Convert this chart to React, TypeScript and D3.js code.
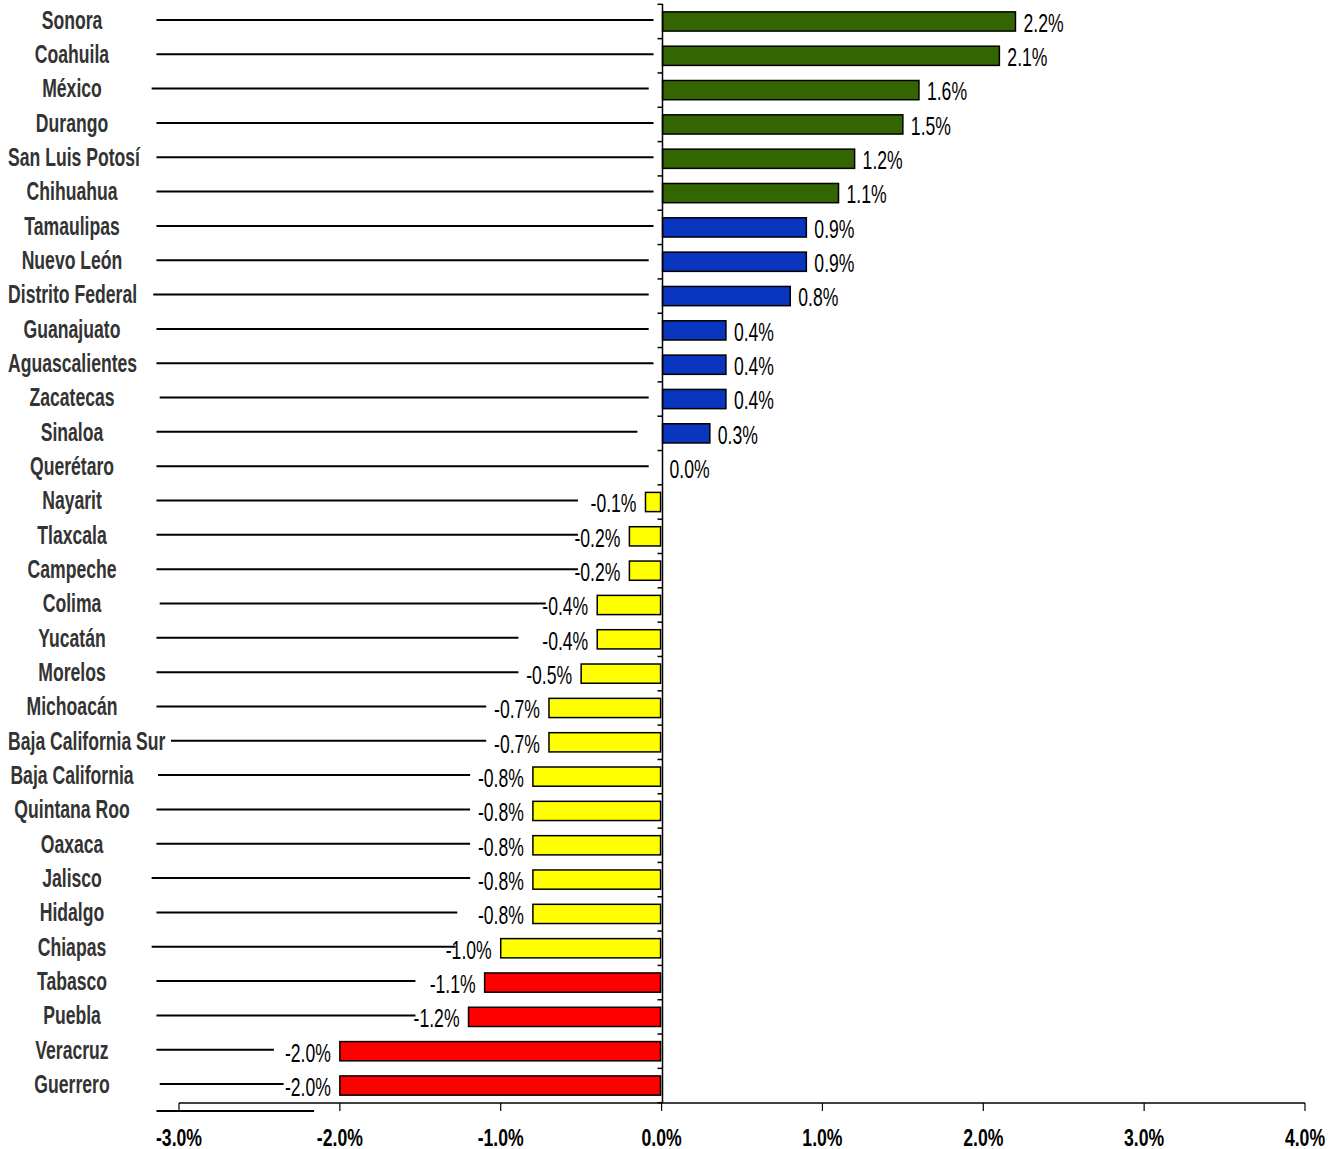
import React, { useEffect, useRef } from "react";
import * as d3 from "d3";

const states = [
  "Sonora", "Coahuila", "México", "Durango", "San Luis Potosí", "Chihuahua",
  "Tamaulipas", "Nuevo León", "Distrito Federal", "Guanajuato", "Aguascalientes",
  "Zacatecas", "Sinaloa", "Querétaro", "Nayarit", "Tlaxcala", "Campeche", "Colima",
  "Yucatán", "Morelos", "Michoacán", "Baja California Sur", "Baja California",
  "Quintana Roo", "Oaxaca", "Jalisco", "Hidalgo", "Chiapas", "Tabasco", "Puebla",
  "Veracruz", "Guerrero",
];

const growth = [
  2.2, 2.1, 1.6, 1.5, 1.2, 1.1, 0.9, 0.9, 0.8, 0.4, 0.4, 0.4, 0.3, 0.0,
  -0.1, -0.2, -0.2, -0.4, -0.4, -0.5, -0.7, -0.7, -0.8, -0.8, -0.8, -0.8,
  -0.8, -1.0, -1.1, -1.2, -2.0, -2.0,
];

// colour group per state: g = green, b = blue, y = yellow, r = red
const groups = [
  "g", "g", "g", "g", "g", "g", "b", "b", "b", "b", "b", "b", "b", "b",
  "y", "y", "y", "y", "y", "y", "y", "y", "y", "y", "y", "y", "y", "y",
  "r", "r", "r", "r",
];

// leftover leader lines from the original sheet (in % units)
const leaderStart = [
  -3.14, -3.14, -3.17, -3.14, -3.14, -3.14, -3.14, -3.14, -3.16, -3.14, -3.14,
  -3.12, -3.14, -3.14, -3.14, -3.14, -3.14, -3.12, -3.14, -3.14, -3.14, -3.05,
  -3.13, -3.14, -3.14, -3.17, -3.14, -3.17, -3.14, -3.14, -3.14, -3.12,
];
const leaderEnd = [
  -0.05, -0.05, -0.08, -0.05, -0.05, -0.05, -0.05, -0.08, -0.08, -0.08, -0.05,
  -0.08, -0.15, -0.08, -0.52, -0.52, -0.52, -0.72, -0.89, -0.89, -1.09, -1.09,
  -1.19, -1.19, -1.19, -1.19, -1.27, -1.28, -1.53, -1.53, -2.41, -2.35,
];
const extraLeader = [-3.14, -2.16];

const ticks = [-3, -2, -1, 0, 1, 2, 3, 4];

const colors: Record<string, string> = {
  g: "#336600",
  b: "#0A35BE",
  y: "#FFFF00",
  r: "#FF0000",
};

const W = 1340;
const H = 1149;
const FONT = "'Liberation Sans', Arial, sans-serif";

function App() {
  const ref = useRef<SVGSVGElement>(null);

  useEffect(() => {
    const svg = d3.select(ref.current);
    svg.selectAll("*").remove();

    const x = d3.scaleLinear().domain([-3, 4]).range([179, 1305]);
    const y = d3.scaleBand().domain(states).range([4.3, 1102.7]).paddingInner(0.44).paddingOuter(0.22);
    const step = y.step();
    const mid = (s: string) => (y(s) as number) + y.bandwidth() / 2;

    const data = states.map((s, i) => ({ s, v: growth[i], g: groups[i], i }));

    // leader lines
    svg.append("g")
      .selectAll("line")
      .data(data)
      .join("line")
      .attr("x1", (d) => x(leaderStart[d.i]))
      .attr("x2", (d) => x(leaderEnd[d.i]))
      .attr("y1", (d) => mid(d.s) - 1.5)
      .attr("y2", (d) => mid(d.s) - 1.5)
      .attr("stroke", "#000")
      .attr("stroke-width", 2);
    svg.append("line")
      .attr("x1", x(extraLeader[0]))
      .attr("x2", x(extraLeader[1]))
      .attr("y1", 1111)
      .attr("y2", 1111)
      .attr("stroke", "#000")
      .attr("stroke-width", 2);

    // bars
    svg.append("g")
      .selectAll("rect")
      .data(data.filter((d) => d.v !== 0))
      .join("rect")
      .attr("x", (d) => Math.min(x(0), x(d.v)) + (d.v > 0 ? 1 : 0))
      .attr("y", (d) => y(d.s) as number)
      .attr("width", (d) => Math.abs(x(d.v) - x(0)) - 1)
      .attr("height", y.bandwidth())
      .attr("fill", (d) => colors[d.g])
      .attr("stroke", "#000")
      .attr("stroke-width", 1.5);

    // zero axis with category ticks
    const zx = Math.round(x(0)) + 0.5;
    svg.append("line")
      .attr("x1", zx).attr("x2", zx)
      .attr("y1", 4).attr("y2", 1103)
      .attr("stroke", "#000").attr("stroke-width", 1.5);
    const bounds = d3.range(states.length + 1).map((k) => 4.3 + k * step);
    svg.append("g")
      .selectAll("line")
      .data(bounds)
      .join("line")
      .attr("x1", zx - 5).attr("x2", zx)
      .attr("y1", (d) => d).attr("y2", (d) => d)
      .attr("stroke", "#000").attr("stroke-width", 1.5);

    // value labels (narrow, tall glyphs)
    const vl = svg.append("g")
      .attr("font-family", FONT)
      .attr("font-size", 22)
      .attr("fill", "#000");
    data.forEach((d) => {
      const pos = d.v >= 0;
      const tx = pos ? x(d.v) + 8 : x(d.v) - 9;
      vl.append("text")
        .attr("transform", `translate(${tx},${mid(d.s) + 1.5}) scale(0.8,1.2)`)
        .attr("text-anchor", pos ? "start" : "end")
        .attr("dominant-baseline", "central")
        .text(`${d.v.toFixed(1)}%`);
    });

    // category labels
    const cl = svg.append("g")
      .attr("font-family", FONT)
      .attr("font-size", 22)
      .attr("font-weight", "bold")
      .attr("fill", "#333");
    data.forEach((d) => {
      const t = cl.append("text")
        .attr("text-anchor", "middle")
        .attr("dominant-baseline", "central")
        .text(d.s);
      const w = (t.node() as SVGTextElement).getComputedTextLength() * 0.8;
      const cx = Math.max(72, 8 + w / 2);
      t.attr("transform", `translate(${cx},${mid(d.s) - 1.5}) scale(0.8,1.2)`);
    });

    // bottom axis
    svg.append("line")
      .attr("x1", x(-3)).attr("x2", x(4))
      .attr("y1", 1103).attr("y2", 1103)
      .attr("stroke", "#000").attr("stroke-width", 1.5);
    const tg = svg.append("g")
      .attr("font-family", FONT)
      .attr("font-size", 21)
      .attr("font-weight", "bold")
      .attr("fill", "#000");
    ticks.forEach((t) => {
      svg.append("line")
        .attr("x1", x(t)).attr("x2", x(t))
        .attr("y1", 1103).attr("y2", 1111)
        .attr("stroke", "#000").attr("stroke-width", 1.2);
      tg.append("text")
        .attr("transform", `translate(${x(t)},1137) scale(0.84,1.15)`)
        .attr("text-anchor", "middle")
        .attr("dominant-baseline", "central")
        .text(`${t.toFixed(1)}%`);
    });
  }, []);

  return (
    <svg
      ref={ref}
      width={W}
      height={H}
      style={{ position: "absolute", left: 0, top: 0, background: "#fff" }}
    />
  );
}

export default App;
